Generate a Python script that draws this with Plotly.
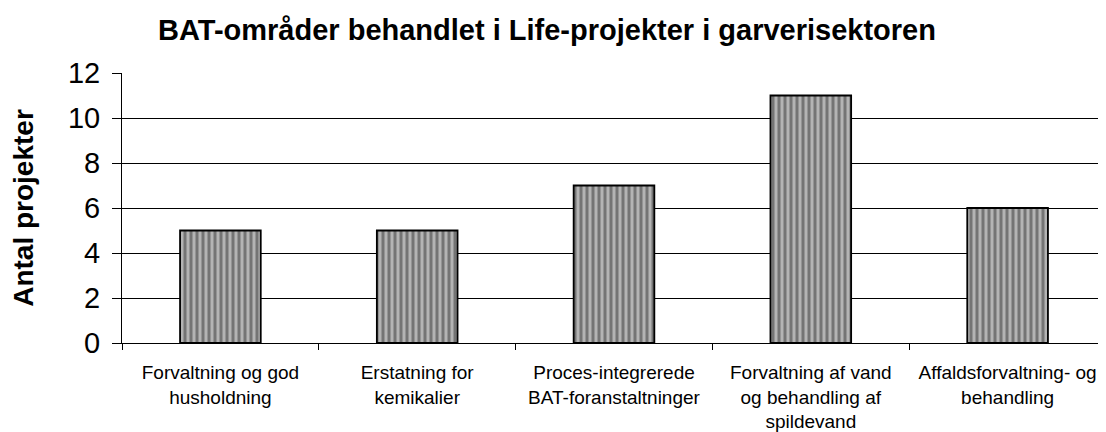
import plotly.graph_objects as go

categories = [
    "Forvaltning og god<br>husholdning",
    "Erstatning for<br>kemikalier",
    "Proces-integrerede<br>BAT-foranstaltninger",
    "Forvaltning af vand<br>og behandling af<br>spildevand",
    "Affaldsforvaltning- og<br>behandling",
]
values = [5, 5, 7, 11, 6]
y_ticks = [0, 2, 4, 6, 8, 10, 12]

fig = go.Figure(
    go.Bar(
        x=categories,
        y=values,
        marker=dict(
            color="#a0a0a0",
            line=dict(color="black", width=1.8),
            pattern=dict(shape="|", size=6, solidity=0.5, fgcolor="#333333", bgcolor="#b4b4b4"),
        ),
        width=0.41,
    )
)

fig.update_layout(
    width=1106,
    height=432,
    margin=dict(l=114, r=8, t=65, b=97),
    paper_bgcolor="white",
    plot_bgcolor="white",
    font=dict(family="Arial, Liberation Sans, sans-serif", color="black"),
    title=dict(
        text="<b>BAT-områder behandlet i Life-projekter i garverisektoren</b>",
        x=539 / 1106,
        xanchor="center",
        y=1 - 22 / 432,
        yanchor="middle",
        font=dict(size=29, color="black"),
    ),
    showlegend=False,
)

fig.update_yaxes(
    range=[0, 12],
    tickvals=y_ticks,
    ticktext=[str(v) for v in y_ticks],
    tickfont=dict(size=29),
    ticklabelstandoff=6,
    showgrid=True,
    gridcolor="black",
    gridwidth=1,
    showline=True,
    linecolor="black",
    linewidth=1,
    ticks="outside",
    ticklen=9,
    tickcolor="black",
    zeroline=False,
    automargin=False,
    title=dict(text="<b>Antal projekter</b>", font=dict(size=28), standoff=26),
)

fig.update_xaxes(
    type="category",
    tickfont=dict(size=19),
    ticklabelstandoff=12,
    showline=True,
    linecolor="black",
    linewidth=1,
    ticks="outside",
    tickson="boundaries",
    ticklen=6,
    tickcolor="black",
    automargin=False,
)

fig.write_html("out.html")
